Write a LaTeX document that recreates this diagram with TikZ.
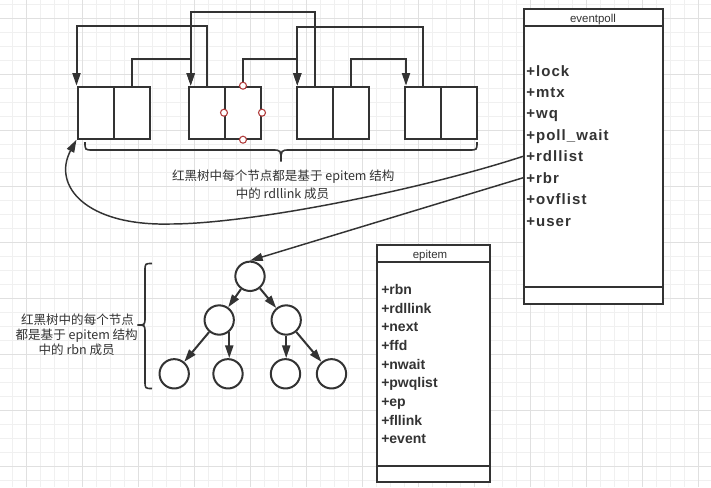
\documentclass[tikz,border=0pt]{standalone}
\usepackage{fontspec}
\usetikzlibrary{arrows.meta,calc}
\newfontfamily\cjk{Noto Sans CJK SC}
\newfontfamily\libfont{Liberation Sans}
\newfontfamily\libspaced[LetterSpace=7]{Liberation Sans}
\definecolor{ink}{HTML}{333333}
\definecolor{dotred}{HTML}{B03A3A}
\definecolor{gridminor}{HTML}{F0F0F0}
\definecolor{gridmajor}{HTML}{E0E0E0}
\begin{document}
\begin{tikzpicture}[x=0.75pt,y=-0.75pt,
  cell/.style={draw=ink, fill=white, line width=1.5pt, minimum width=27pt, minimum height=39pt, inner sep=0pt},
  conn/.style={draw=ink, line width=1.5pt, -{Triangle[length=9.5pt,width=6pt]}},
  thinconn/.style={draw=ink, line width=1.1pt, -{Triangle[length=9.5pt,width=6pt]}},
  plainline/.style={draw=ink, line width=1.5pt},
  bracestyle/.style={draw=ink, line width=1.2pt},
  tnode/.style={circle, draw=ink, fill=white, line width=1.5pt, minimum size=22pt, inner sep=0pt},
  handle/.style={circle, draw=dotred, fill=white, line width=0.8pt, minimum size=5.25pt, inner sep=0pt},
  cls/.style={draw=ink, fill=white, line width=1.5pt, inner sep=0pt},
  fieldA/.style={anchor=base west, inner sep=0pt, text=ink, font=\libspaced\bfseries\fontsize{11.25pt}{13pt}\selectfont},
  fieldB/.style={anchor=base west, inner sep=0pt, text=ink, font=\libfont\bfseries\fontsize{10.5pt}{12pt}\selectfont},
  ctitle/.style={anchor=base, inner sep=0pt, text=ink, font=\libfont\fontsize{8.6pt}{10pt}\selectfont},
  cjktext/.style={anchor=base, inner sep=0pt, text=ink, font=\cjk\fontsize{9.4pt}{12pt}\selectfont}
]
\useasboundingbox (0,0) rectangle (711,487);
\fill[white] (0,0) rectangle (711,487);
% grid
\foreach \i in {0,...,49} \draw[gridminor, line width=0.75pt] ({12.7+14*\i},0) -- ({12.7+14*\i},487);
\foreach \i in {0,...,34} \draw[gridminor, line width=0.75pt] (0,{4.3+14*\i}) -- (711,{4.3+14*\i});
\foreach \i in {0,...,12} \draw[gridmajor, line width=0.75pt] ({26.7+56*\i},0) -- ({26.7+56*\i},487);
\foreach \i in {0,...,8} \draw[gridmajor, line width=0.75pt] (0,{18.3+56*\i}) -- (711,{18.3+56*\i});

% list boxes
\node[cell] (a1) at (95.5,112.7) {};
\node[cell] (b1) at (131.5,112.7) {};
\node[cell] (a2) at (207,112.7) {};
\node[cell] (b2) at (243,112.7) {};
\node[cell] (a3) at (315,112.7) {};
\node[cell] (b3) at (351,112.7) {};
\node[cell] (a4) at (423,112.7) {};
\node[cell] (b4) at (459,112.7) {};

\coordinate (in2) at ($(a2.north west)+(2.7,0)$);
\coordinate (in3) at ($(a3.north west)+(1.3,0)$);
\coordinate (in4) at ($(a4.north west)+(2,0)$);

\draw[conn] (a2.north) -- ++(0,-60) -| (a1.north west);
\draw[conn] (a3.north) -- ++(0,-74) -| (in2);
\draw[conn] (b1.north) -- ++(0,-26.7) -| (in2);
\draw[conn] (a4.north) -- ++(0,-58.7) -| (in3);
\draw[conn] (b2.north) -- ++(0,-26.7) -| (in3);
\draw[conn] (b3.north) -- ++(0,-26.7) -| (in4);

\node[handle] (h1) at (b2.north) {};
\node[handle] (h2) at (b2.west) {};
\node[handle] (h3) at (b2.east) {};
\node[handle] (h4) at (b2.south) {};

% top brace
\draw[bracestyle] (85,142) .. controls (85,150) .. (93,150) -- (272,150)
  .. controls (281,150) .. (281,161.5) .. controls (281,150) .. (290,150)
  -- (469,150) .. controls (477,150) .. (477,142);
\node[cjktext] (tt1) at (283.3,180.5) {红黑树中每个节点都是基于 epitem 结构};
\node[cjktext] (tt2) at (282.5,198) {中的 rdllink 成员};

% eventpoll class
\node[cls, minimum width=104.5pt, minimum height=221.25pt] (epbox) at (593.65,156.5) {};
\draw[plainline] ($(epbox.north west)+(0,17.7)$) -- ($(epbox.north east)+(0,17.7)$);
\draw[plainline] ($(epbox.south west)+(0,-18.3)$) -- ($(epbox.south east)+(0,-18.3)$);
\node[ctitle] (eptitle) at (593,22) {eventpoll};
\foreach \t [count=\k from 0] in {lock,mtx,wq,poll\_wait,rdllist,rbr,ovflist,user}
  \node[fieldA] (ep\k) at (526,{76+21.43*\k}) {+\t};

% epitem class
\node[cls, minimum width=84.5pt, minimum height=177.5pt] (eibox) at (433.65,363.35) {};
\draw[plainline] ($(eibox.north west)+(0,17.7)$) -- ($(eibox.north east)+(0,17.7)$);
\draw[plainline] ($(eibox.south west)+(0,-16.7)$) -- ($(eibox.south east)+(0,-16.7)$);
\node[ctitle] (eititle) at (430,258.5) {epitem};
\foreach \t [count=\k from 0] in {rbn,rdllink,next,ffd,nwait,pwqlist,ep,fllink,event}
  \node[fieldB] (ei\k) at (381,{294.3+18.71*\k}) {+\t};

% tree
\node[tnode] (root) at (250,276.3) {};
\node[tnode] (l2) at (219.2,320) {};
\node[tnode] (r2) at (286.2,320) {};
\node[tnode] (c1) at (174.2,373.8) {};
\node[tnode] (c2) at (228,373.8) {};
\node[tnode] (c3) at (285.5,373.8) {};
\node[tnode] (c4) at (331.5,373.8) {};
\draw[conn] (root) -- (l2);
\draw[conn] (root) -- (r2);
\draw[conn] (l2) -- (c1);
\draw[conn] (l2.-50) -- (l2.-50 |- c2.north);
\draw[conn] (r2.south) -- (r2.south |- c3.north);
\draw[conn] (r2) -- (c4);

% left brace and text
\draw[bracestyle] (152,263.5) .. controls (145,263.5) .. (145,271) -- (145,317)
  .. controls (145,325) .. (137.5,325) .. controls (145,325) .. (145,333)
  -- (145,380.5) .. controls (145,388.5) .. (152,388.5);
\node[cjktext] (lt1) at (77.5,324.3) {红黑树中的每个节点};
\node[cjktext] (lt2) at (76.7,339.3) {都是基于 epitem 结构};
\node[cjktext] (lt3) at (76.7,354.3) {中的 rbn 成员};

% connectors from eventpoll
\coordinate (s1) at (epbox.west |- ep4.center);
\coordinate (s2) at (epbox.west |- ep5.center);
\draw[thinconn] (s1) .. controls (420,190) and (250,224) .. (170,224)
  .. controls (85,226) and (52,185) .. (a1.south west);
\draw[thinconn] (s2) -- (root.north);
\end{tikzpicture}
\end{document}
